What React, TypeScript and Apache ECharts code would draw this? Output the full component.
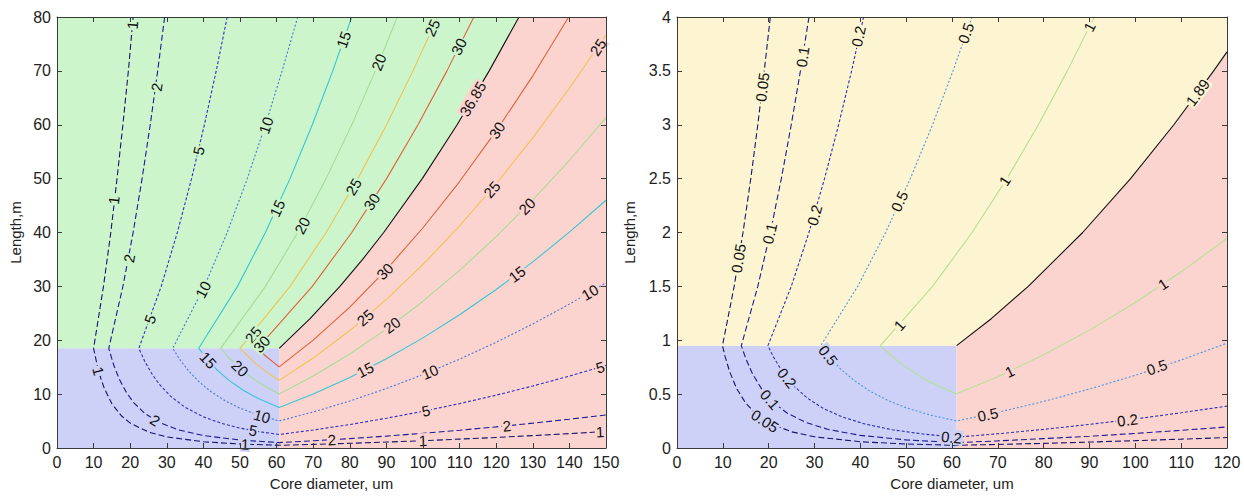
import React, { useEffect, useRef } from "react";
import * as echarts from "echarts";

const FONT = '"Liberation Sans", Arial, sans-serif';

// ---------- LEFT PANEL DATA ----------
const LEFT_X_MAX = 150;
const LEFT_Y_MAX = 80;
const LEFT_D0 = 60.7;
const LEFT_L0 = 18.5;
const LEFT_CRIT = 36.85;
const LEFT_LEVELS = [1, 2, 5, 10, 15, 20, 25, 30];

// upper (green) branch: from top edge down to the kink at L0
const LEFT_GREEN = [
  [[20.8, 80], [19.5, 70], [18.0, 60], [16.4, 50], [14.7, 40], [12.7, 30], [10, 18.5]],
  [[29.41, 80], [27.51, 70], [25.47, 60], [23.25, 50], [20.8, 40], [18.01, 30], [14.14, 18.5]],
  [[46.5, 80], [43.5, 70], [40.27, 60], [36.76, 50], [32.88, 40], [28.47, 30], [22.36, 18.5]],
  [[65.76, 80], [61.51, 70], [56.95, 60], [51.99, 50], [46.5, 40], [40.27, 30], [31.62, 18.5]],
  [[80.54, 80], [75.34, 70], [69.75, 60], [63.67, 50], [56.95, 40], [49.32, 30], [38.73, 18.5]],
  [[93.0, 80], [86.99, 70], [80.54, 60], [73.52, 50], [65.76, 40], [56.95, 30], [44.72, 18.5]],
  [[103.98, 80], [97.26, 70], [90.05, 60], [82.2, 50], [73.53, 40], [63.67, 30], [50, 18.5]],
  [[113.9, 80], [106.54, 70], [98.64, 60], [90.05, 50], [80.54, 40], [69.75, 30], [54.77, 18.5]],
];
// lower-left (blue) branch: from the kink to the core limit
const LEFT_BLUE = [
  [[11, 15.29], [12, 12.85], [13, 10.95], [15, 8.22], [17.5, 6.04], [20, 4.63], [25, 2.96], [30, 2.06], [40, 1.16], [50, 0.74], [60.7, 0.5]],
  [[15.5, 15.4], [17, 12.8], [19, 10.25], [21, 8.39], [24, 6.42], [28, 4.72], [33, 3.4], [40, 2.31], [50, 1.48], [60.7, 1.0]],
  [[24, 16.06], [26, 13.68], [28, 11.8], [31, 9.63], [35, 7.55], [40, 5.78], [45, 4.57], [50, 3.7], [55, 3.06], [60.7, 2.51]],
  [[33.5, 16.48], [36, 14.27], [39, 12.16], [42, 10.49], [46, 8.74], [50, 7.4], [55, 6.12], [60.7, 5.02]],
  [[41, 16.51], [44, 14.33], [47, 12.56], [51, 10.67], [55, 9.17], [60.7, 7.53]],
  [[47, 16.75], [50, 14.8], [53, 13.17], [56.5, 11.59], [60.7, 10.04]],
  [[52.5, 16.78], [55, 15.29], [58, 13.75], [60.7, 12.55]],
  [[57, 17.08], [60.7, 15.06]],
];
// right (red) branch
const LEFT_RED = [
  [[70, 0.67], [80, 0.87], [90, 1.1], [100, 1.36], [110, 1.65], [120, 1.96], [130, 2.3], [140, 2.67], [150, 3.07]],
  [[70, 1.34], [80, 1.74], [90, 2.21], [100, 2.73], [110, 3.3], [120, 3.92], [130, 4.61], [140, 5.34], [150, 6.13]],
  [[70, 3.34], [80, 4.36], [90, 5.52], [100, 6.81], [110, 8.24], [120, 9.81], [130, 11.51], [140, 13.35], [150, 15.33]],
  [[70, 6.68], [80, 8.72], [90, 11.04], [100, 13.63], [110, 16.49], [120, 19.62], [130, 23.03], [140, 26.71], [150, 30.66]],
  [[70, 10.02], [80, 13.08], [90, 16.56], [100, 20.44], [110, 24.73], [120, 29.43], [130, 34.54], [140, 40.06], [150, 45.99]],
  [[70, 13.35], [80, 17.44], [90, 22.07], [100, 27.25], [110, 32.97], [120, 39.24], [130, 46.06], [140, 53.41], [150, 61.32]],
  [[70, 16.69], [80, 21.8], [90, 27.59], [100, 34.07], [110, 41.22], [120, 49.05], [130, 57.57], [140, 66.77], [150, 76.65]],
  [[70, 20.03], [80, 26.16], [90, 33.11], [100, 40.88], [110, 49.46], [120, 58.86], [130, 69.08], [139.8, 80]],
];
const LEFT_BLACK = [[60.7, 18.5], [69.14, 24], [77.3, 30], [83.5, 35], [89.26, 40], [99.8, 50], [109.32, 60], [118.08, 70], [126.23, 80]];

const LEFT_LABELS = [
  [20.6, 78.5, 1], [15.5, 46, 1], [27.2, 67, 2], [19.7, 35.2, 2], [38.7, 55.2, 5], [25.4, 23.9, 5],
  [57.1, 59.9, 10], [39.9, 29.4, 10], [60.2, 44.5, 15], [78.3, 75.8, 15], [67, 41.3, 20], [87.9, 71.6, 20],
  [102.5, 78, 25], [81, 48.5, 25], [53.6, 21, 25], [109.8, 74.5, 30], [86, 45.7, 30], [55.9, 19.3, 30],
  [113.6, 64.8, 36.85],
  [11.3, 14.3, 1], [26.8, 5.15, 2], [53.6, 3.25, 5], [56, 5.9, 10], [41.3, 16.3, 15], [50, 14.8, 20], [51.4, 0.7, 1],
  [147.8, 74.4, 25], [120.2, 59, 30], [118.8, 48, 25], [128.4, 44.9, 20], [89.6, 32.8, 30], [84.2, 24.2, 25],
  [91.5, 22.8, 20], [125.7, 32.3, 15], [84.2, 14.5, 15], [101.9, 14.1, 10], [145.6, 28.9, 10], [100.8, 6.9, 5],
  [148.4, 15.0, 5], [122.9, 4.1, 2], [75.1, 1.54, 2], [100, 1.36, 1], [148.4, 3.0, 1],
];

// ---------- RIGHT PANEL DATA ----------
const RIGHT_X_MAX = 120;
const RIGHT_Y_MAX = 4;
const RIGHT_D0 = 61;
const RIGHT_L0 = 0.95;
const RIGHT_CRIT = 1.89;
const RIGHT_LEVELS = [0.05, 0.1, 0.2, 0.5, 1];

const RIGHT_GREEN = [
  [[20.36, 4], [19.04, 3.5], [17.63, 3], [16.1, 2.5], [14.4, 2], [12.47, 1.5], [9.92, 0.95]],
  [[28.79, 4], [26.93, 3.5], [24.93, 3], [22.76, 2.5], [20.36, 2], [17.63, 1.5], [14.03, 0.95]],
  [[40.72, 4], [38.09, 3.5], [35.26, 3], [32.19, 2.5], [28.79, 2], [24.93, 1.5], [19.84, 0.95]],
  [[64.38, 4], [60.22, 3.5], [55.76, 3], [50.9, 2.5], [45.52, 2], [39.42, 1.5], [31.37, 0.95]],
  [[91.05, 4], [85.17, 3.5], [78.85, 3], [71.98, 2.5], [64.38, 2], [55.75, 1.5], [44.37, 0.95]],
];
const RIGHT_BLUE = [
  [[10.5, 0.848], [11.5, 0.707], [13, 0.553], [15, 0.416], [17.5, 0.305], [20, 0.234], [25, 0.15], [30, 0.104], [40, 0.058], [50, 0.037], [61, 0.025]],
  [[15, 0.831], [16.5, 0.687], [18.5, 0.546], [21, 0.424], [24, 0.325], [28, 0.239], [33, 0.172], [40, 0.117], [50, 0.075], [61, 0.05]],
  [[21, 0.848], [23, 0.707], [25.5, 0.575], [28.5, 0.461], [32, 0.365], [36, 0.289], [41, 0.223], [47, 0.169], [54, 0.128], [61, 0.1005]],
  [[33, 0.859], [35.5, 0.742], [38.5, 0.631], [42, 0.53], [46, 0.442], [50, 0.374], [55, 0.309], [61, 0.251]],
  [[47, 0.847], [50, 0.748], [54, 0.641], [58, 0.556], [61, 0.503]],
];
const RIGHT_RED = [
  [[70, 0.033], [80, 0.043], [90, 0.055], [100, 0.068], [110, 0.082], [120, 0.097]],
  [[70, 0.066], [80, 0.087], [90, 0.109], [100, 0.135], [110, 0.164], [120, 0.195]],
  [[70, 0.132], [80, 0.173], [90, 0.219], [100, 0.27], [110, 0.327], [120, 0.389]],
  [[70, 0.331], [80, 0.432], [90, 0.547], [100, 0.675], [110, 0.817], [120, 0.973]],
  [[70, 0.662], [80, 0.865], [90, 1.094], [100, 1.351], [110, 1.635], [120, 1.945]],
];
const RIGHT_BLACK = [[61, 0.95], [68.56, 1.2], [76.64, 1.5], [88.51, 2], [98.96, 2.5], [108.4, 3], [117.09, 3.5], [120, 3.676]];

const RIGHT_LABELS = [
  [18.6, 3.35, 0.05], [13.4, 1.76, 0.05], [27.4, 3.63, 0.1], [20.2, 1.99, 0.1], [39.6, 3.82, 0.2], [30, 2.16, 0.2],
  [63, 3.85, 0.5], [48.5, 2.29, 0.5], [90, 3.91, 1], [71.5, 2.48, 1], [48.5, 1.14, 1], [113.6, 3.3, 1.89],
  [33, 0.86, 0.5], [24, 0.65, 0.2], [20.3, 0.45, 0.1], [19.2, 0.25, 0.05], [59.9, 0.1, 0.2],
  [67.8, 0.31, 0.5], [72.6, 0.71, 1], [106, 1.52, 1], [104.7, 0.75, 0.5], [98.3, 0.26, 0.2],
];

// ---------- STYLES ----------
const BLUE_BG = "#cdd0f7";
const GREEN_BG = "#ccf5cc";
const RED_BG = "#fcd4cf";
const YELLOW_BG = "#fdf5d1";
const LEFT_COLORS = ["#14146e", "#1a1a94", "#3030c0", "#4676d4", "#36c6d2", "#a6dc96", "#f0c250", "#e0603c"];
const LEFT_DASH: any[] = [[6, 3], [6, 3], [3, 2], [2, 2], "solid", "solid", "solid", "solid"];
const RIGHT_COLORS = ["#14146e", "#1a1a94", "#2a30b8", "#4a96dc", "#b4e094"];
const RIGHT_DASH: any[] = [[6, 3], [6, 3], [3, 2], [2, 2], "solid"];
const AXIS_COLOR = "#3a3a3a";

function pointInPoly(pt: number[], poly: number[][]) {
  let inside = false;
  for (let i = 0, j = poly.length - 1; i < poly.length; j = i++) {
    const xi = poly[i][0], yi = poly[i][1], xj = poly[j][0], yj = poly[j][1];
    if ((yi > pt[1]) !== (yj > pt[1]) && pt[0] < ((xj - xi) * (pt[1] - yi)) / (yj - yi) + xi) inside = !inside;
  }
  return inside;
}

function buildPanel(cfg: any) {
  const { levels, green, blue, red, black, crit, colors, dashes, regions, labels, axisIndex } = cfg;
  const contours = levels.map((v: number, i: number) => ({
    value: v,
    points: [...green[i], ...blue[i], ...red[i]],
    color: colors[i],
    dash: dashes[i],
  }));
  contours.push({ value: crit, points: black, color: "#111111", dash: "solid" });

  const series: any[] = [];
  series.push({
    type: "custom",
    xAxisIndex: axisIndex,
    yAxisIndex: axisIndex,
    silent: true,
    z: 1,
    data: regions.map((_: any, i: number) => [i, 0]),
    renderItem: (params: any, api: any) => {
      const r = regions[params.dataIndex];
      return {
        type: "polygon",
        shape: { points: r.poly.map((p: number[]) => api.coord(p)) },
        style: { fill: r.color },
      };
    },
  });
  contours.forEach((c: any) => {
    series.push({
      type: "line",
      xAxisIndex: axisIndex,
      yAxisIndex: axisIndex,
      data: c.points,
      showSymbol: false,
      symbol: "none",
      silent: true,
      z: 2,
      clip: true,
      lineStyle: { color: c.color, width: 1.1, type: c.dash },
    });
  });
  series.push({
    type: "custom",
    xAxisIndex: axisIndex,
    yAxisIndex: axisIndex,
    silent: true,
    z: 3,
    data: labels,
    renderItem: (params: any, api: any) => {
      const x = api.value(0), y = api.value(1), v = api.value(2);
      const p = api.coord([x, y]);
      const c = contours.find((cc: any) => Math.abs(cc.value - v) < 1e-9);
      let ang = 0;
      if (c) {
        const px = c.points.map((q: number[]) => api.coord(q));
        let best = Infinity;
        for (let i = 0; i < px.length - 1; i++) {
          const a = px[i], b = px[i + 1];
          const dx = b[0] - a[0], dy = b[1] - a[1];
          const len2 = dx * dx + dy * dy || 1;
          let t = ((p[0] - a[0]) * dx + (p[1] - a[1]) * dy) / len2;
          t = Math.max(0, Math.min(1, t));
          const cx = a[0] + t * dx, cy = a[1] + t * dy;
          const d = (cx - p[0]) ** 2 + (cy - p[1]) ** 2;
          if (d < best) {
            best = d;
            ang = Math.atan2(-dy, dx);
          }
        }
        if (ang > Math.PI / 2) ang -= Math.PI;
        if (ang < -Math.PI / 2) ang += Math.PI;
      }
      let bg = regions[0].color;
      for (const r of regions) if (pointInPoly([x, y], r.poly)) bg = r.color;
      return {
        type: "text",
        x: p[0],
        y: p[1],
        rotation: ang,
        style: {
          text: String(v),
          fill: "#111",
          fontSize: 15,
          fontFamily: FONT,
          align: "center",
          verticalAlign: "middle",
          backgroundColor: bg,
          padding: [0, 1],
        },
      };
    },
  });
  return series;
}

function axes(gridIndex: number, xMax: number, yMax: number, yInterval: number) {
  const common = {
    type: "value",
    gridIndex,
    axisLine: { show: true, onZero: false, lineStyle: { color: AXIS_COLOR, width: 1 } },
    axisTick: { show: true, inside: true, length: 5, lineStyle: { color: AXIS_COLOR } },
    splitLine: { show: false },
    z: 10,
  };
  const label = { fontSize: 16, color: "#222", fontFamily: FONT, margin: 6 };
  const x = [
    {
      ...common, min: 0, max: xMax, interval: 10, position: "bottom", axisLabel: label,
      name: "Core diameter, um", nameLocation: "middle", nameGap: 28,
      nameTextStyle: { fontSize: 15, color: "#222", fontFamily: FONT },
    },
    { ...common, min: 0, max: xMax, interval: 10, position: "top", axisLabel: { show: false } },
  ];
  const y = [
    {
      ...common, min: 0, max: yMax, interval: yInterval, position: "left", axisLabel: label,
      name: "Length,m", nameLocation: "middle", nameGap: gridIndex === 0 ? 34 : 40, nameRotate: 90,
      nameTextStyle: { fontSize: 15, color: "#222", fontFamily: FONT },
    },
    { ...common, min: 0, max: yMax, interval: yInterval, position: "right", axisLabel: { show: false } },
  ];
  return { x, y };
}

export default function App() {
  const ref = useRef<HTMLDivElement>(null);
  useEffect(() => {
    if (!ref.current) return;
    const chart = echarts.init(ref.current, undefined, { renderer: "svg" });

    const leftRegions = [
      { color: BLUE_BG, poly: [[0, 0], [LEFT_D0, 0], [LEFT_D0, LEFT_L0], [0, LEFT_L0]] },
      { color: GREEN_BG, poly: [[0, LEFT_L0], ...LEFT_BLACK, [0, LEFT_Y_MAX]] },
      { color: RED_BG, poly: [[LEFT_D0, 0], [LEFT_X_MAX, 0], [LEFT_X_MAX, LEFT_Y_MAX], ...[...LEFT_BLACK].reverse()] },
    ];
    const rightRegions = [
      { color: BLUE_BG, poly: [[0, 0], [RIGHT_D0, 0], [RIGHT_D0, RIGHT_L0], [0, RIGHT_L0]] },
      { color: YELLOW_BG, poly: [[0, RIGHT_L0], ...RIGHT_BLACK, [RIGHT_X_MAX, RIGHT_Y_MAX], [0, RIGHT_Y_MAX]] },
      { color: RED_BG, poly: [[RIGHT_D0, 0], [RIGHT_X_MAX, 0], ...[...RIGHT_BLACK].reverse()] },
    ];

    const a0 = axes(0, LEFT_X_MAX, LEFT_Y_MAX, 10);
    const a1 = axes(1, RIGHT_X_MAX, RIGHT_Y_MAX, 0.5);

    const series = [
      ...buildPanel({
        levels: LEFT_LEVELS, green: LEFT_GREEN, blue: LEFT_BLUE, red: LEFT_RED, black: LEFT_BLACK,
        crit: LEFT_CRIT, colors: LEFT_COLORS, dashes: LEFT_DASH, regions: leftRegions, labels: LEFT_LABELS, axisIndex: 0,
      }),
      ...buildPanel({
        levels: RIGHT_LEVELS, green: RIGHT_GREEN, blue: RIGHT_BLUE, red: RIGHT_RED, black: RIGHT_BLACK,
        crit: RIGHT_CRIT, colors: RIGHT_COLORS, dashes: RIGHT_DASH, regions: rightRegions, labels: RIGHT_LABELS, axisIndex: 2,
      }),
    ];

    chart.setOption({
      animation: false,
      backgroundColor: "#ffffff",
      textStyle: { fontFamily: FONT },
      grid: [
        { left: 57, top: 17, width: 549, height: 434, show: false },
        { left: 677, top: 17, width: 550, height: 434, show: false },
      ],
      xAxis: [...a0.x, ...a1.x],
      yAxis: [...a0.y, ...a1.y],
      series,
    });
    return () => chart.dispose();
  }, []);
  return (
    <div
      ref={ref}
      style={{ position: "absolute", left: 0, top: 0, width: 1244, height: 496, background: "#fff" }}
    />
  );
}
